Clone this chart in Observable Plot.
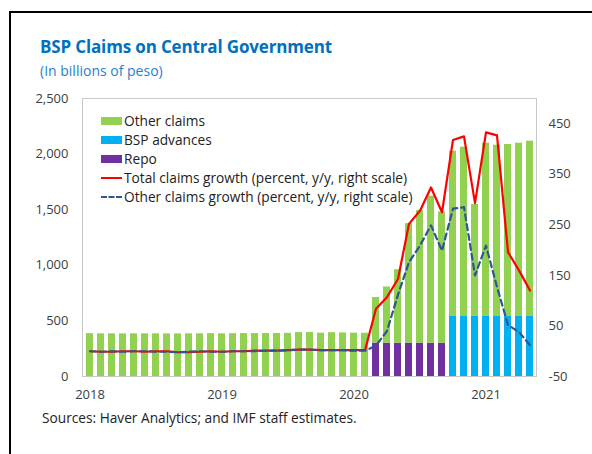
<!DOCTYPE html>
<html>
<head>
<meta charset="utf-8">
<script src="https://cdn.jsdelivr.net/npm/d3@7"></script>
<script src="https://cdn.jsdelivr.net/npm/@observablehq/plot@0.6"></script>
<style>
  body { margin: 0; background: #fff; font-family: "Open Sans", sans-serif; }
  #page { position: relative; width: 592px; height: 454px; overflow: hidden; }
  #border { position: absolute; left: 9px; top: 11px; width: 700px; height: 600px;
            border-top: 2.5px solid #000; border-left: 2.5px solid #000; }
  #title { position: absolute; left: 40px; top: 35px; font-weight: bold; font-size: 17px;
           color: #0070C0; white-space: nowrap; letter-spacing: -0.15px; }
  #subtitle { position: absolute; left: 40px; top: 61px; font-size: 14px; color: #1F7FCC; white-space: nowrap; }
  #chart { position: absolute; left: 0; top: 86px; }
  #legend { position: absolute; left: 101px; top: 111px; font-size: 13.7px; color: #222; }
  .row { height: 19px; line-height: 19px; display: flex; align-items: center; white-space: nowrap; }
  .sw { width: 21px; height: 8px; margin-right: 2px; }
  .ln { width: 21px; height: 0; margin-right: 2px; }
  #source { position: absolute; left: 42px; top: 408px; font-size: 13.7px; color: #222; white-space: nowrap; }
</style>
</head>
<body>
<div id="page">
  <div id="border"></div>
  <div id="title">BSP Claims on Central Government</div>
  <div id="subtitle">(In billions of peso)</div>
  <div id="chart"></div>
  <div id="legend"></div>
  <div id="source">Sources: Haver Analytics; and IMF staff estimates.</div>
</div>
<script>
// ---- data ----
const months = [
  "2018-01","2018-02","2018-03","2018-04","2018-05","2018-06","2018-07","2018-08","2018-09","2018-10","2018-11","2018-12",
  "2019-01","2019-02","2019-03","2019-04","2019-05","2019-06","2019-07","2019-08","2019-09","2019-10","2019-11","2019-12",
  "2020-01","2020-02","2020-03","2020-04","2020-05","2020-06","2020-07","2020-08","2020-09","2020-10","2020-11","2020-12",
  "2021-01","2021-02","2021-03","2021-04","2021-05"
];
// total BSP claims (billions of peso) = other claims + BSP advances + repo
const totalClaims = [
  385, 384, 384, 383, 384, 384, 384, 383, 383, 384, 384, 385,
  384, 385, 386, 386, 387, 387, 388, 395, 396, 390, 394, 392,
  390, 389, 710, 805, 960, 1375, 1493, 1622, 1480, 2026, 2062, 1547,
  2098, 2080, 2086, 2098, 2116
];
const repo = [
  0,0,0,0,0,0,0,0,0,0,0,0,
  0,0,0,0,0,0,0,0,0,0,0,0,
  0,0,300,300,300,300,300,300,300,0,0,0,
  0,0,0,0,0
];
const bspAdvances = [
  0,0,0,0,0,0,0,0,0,0,0,0,
  0,0,0,0,0,0,0,0,0,0,0,0,
  0,0,0,0,0,0,0,0,0,540,540,540,
  540,540,540,540,540
];
// growth rates (percent, y/y, right scale)
const totalGrowth = [
  0, -1, -1, 0, 0, -1, 0, 0, -2, -2, -1, 0,
  -1, 0, 0, 1, 1, 1, 2, 3, 3, 2, 2, 2,
  2, 2, 84, 107, 143, 252, 278, 324, 275, 418, 425, 293,
  433, 427, 196, 160, 120
];
const otherGrowth = [
  0, -1, 0, -1, 0, 0, -1, -1, -2, -1, 0, -1,
  -1, 0, 0, 0, 1, 1, 2, 3, 3, 2, 2, 2,
  1, 1, 11, 40, 112, 176, 209, 249, 199, 282, 285, 150,
  209, 127, 52, 38, 12
];
const seriesNames = ["Other claims", "BSP advances", "Repo"];
const seriesColors = ["#92D050", "#00B0F0", "#7030A0"];
const lineNames = ["Total claims growth (percent, y/y, right scale)", "Other claims growth (percent, y/y, right scale)"];
const lineColors = ["#FF0000", "#2F5597"];
const leftTicks = [0, 500, 1000, 1500, 2000, 2500];
const rightTicks = [-50, 50, 150, 250, 350, 450];
const xTicks = ["2018-01", "2019-01", "2020-01", "2021-01"];

// ---- scales mapping for the right axis ----
const leftMax = 2500, rightMin = -50, rightMax = 500;
const toLeft = v => (v - rightMin) * leftMax / (rightMax - rightMin);
const fromLeft = d => Math.round(d * (rightMax - rightMin) / leftMax + rightMin);

const bars = [];
months.forEach((m, i) => {
  bars.push({month: m, series: "Repo", value: repo[i]});
  bars.push({month: m, series: "BSP advances", value: bspAdvances[i]});
  bars.push({month: m, series: "Other claims", value: totalClaims[i] - repo[i] - bspAdvances[i]});
});
const totalLine = months.map((m, i) => ({month: m, v: toLeft(totalGrowth[i])}));
const otherLine = months.map((m, i) => ({month: m, v: toLeft(otherGrowth[i])}));

const chart = Plot.plot({
  width: 592,
  height: 320,
  marginLeft: 82,
  marginRight: 56,
  marginTop: 12,
  marginBottom: 30,
  style: {fontFamily: "'Open Sans', sans-serif", fontSize: "13px", color: "#404040", background: "transparent"},
  x: {type: "band", domain: months, paddingInner: 0.4, paddingOuter: 0.2, axis: null, label: null},
  y: {domain: [0, leftMax], axis: null, label: null},
  color: {domain: seriesNames, range: seriesColors},
  marks: [
    Plot.barY(bars, {x: "month", y: "value", fill: "series", order: ["Repo", "BSP advances", "Other claims"]}),
    Plot.frame({stroke: "#C8C8C8"}),
    Plot.line(totalLine, {x: "month", y: "v", stroke: lineColors[0], strokeWidth: 2.2}),
    Plot.line(otherLine, {x: "month", y: "v", stroke: lineColors[1], strokeWidth: 2.2, strokeDasharray: "6,4"}),
    Plot.axisY(leftTicks, {anchor: "left", tickSize: 0, tickPadding: 14, tickFormat: d3.format(","), fill: "#404040", label: null}),
    Plot.axisY(rightTicks.map(toLeft), {anchor: "right", tickSize: 0, tickPadding: 12, tickFormat: d => String(fromLeft(d)), fill: "#404040", label: null}),
    Plot.axisX(xTicks, {anchor: "bottom", tickSize: 0, tickPadding: 13, tickFormat: d => d.slice(0, 4), fill: "#404040", label: null})
  ]
});
document.getElementById("chart").appendChild(chart);

// legend
const legend = document.getElementById("legend");
seriesNames.forEach((s, i) => {
  const r = document.createElement("div"); r.className = "row";
  r.innerHTML = `<span class="sw" style="background:${seriesColors[i]}"></span><span>${s}</span>`;
  legend.appendChild(r);
});
lineNames.forEach((s, i) => {
  const r = document.createElement("div"); r.className = "row";
  const style = i === 0 ? `border-top:2px solid ${lineColors[i]}` : `border-top:2px dashed ${lineColors[i]}`;
  r.innerHTML = `<span class="ln" style="${style}"></span><span>${s}</span>`;
  legend.appendChild(r);
});
</script>
</body>
</html>
